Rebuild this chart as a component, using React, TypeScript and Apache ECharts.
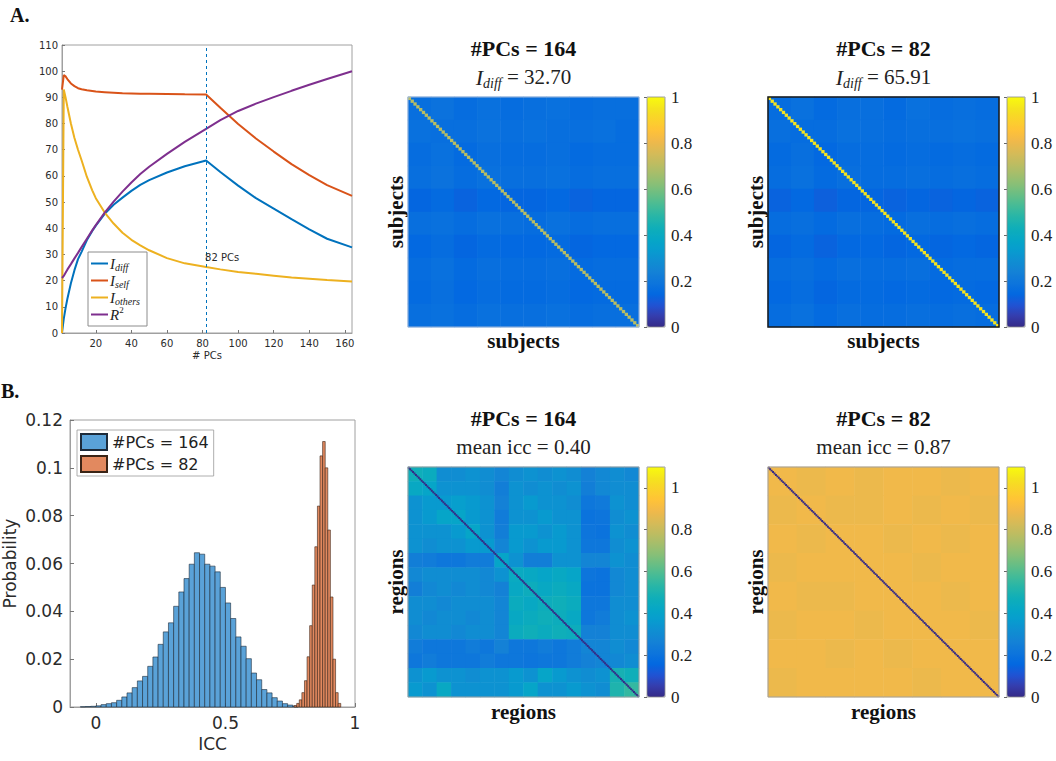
import React, { useEffect, useRef } from 'react';
import * as echarts from 'echarts';

// ---------- Panel A (left): identifiability vs number of PCs ----------
const PCS = [1, 2, 3, 4, 6, 8, 10, 12, 15, 18, 20, 25, 30, 35, 40, 45, 50, 60, 70, 82, 90, 100, 110, 120, 130, 140, 150, 164];
const I_DIFF = [0, 5.5, 9.5, 13, 19, 24, 28.2, 31, 35.5, 39, 41, 45.5, 49, 51.7, 54.3, 56.6, 58.4, 61.3, 63.7, 65.9, 61.5, 56.3, 51.5, 47.5, 43.5, 39.6, 36, 32.7];
const I_SELF = [93, 98.5, 98, 97, 95.3, 94.3, 93.5, 93.1, 92.7, 92.4, 92.2, 92, 91.8, 91.6, 91.5, 91.4, 91.4, 91.3, 91.2, 91.1, 86, 79.8, 74.3, 69.3, 64.5, 60.3, 56.5, 52.4];
const I_OTHERS = [0, 93, 90, 86.5, 80, 74.5, 70, 66, 59.6, 54.5, 51.5, 46, 41.8, 38.3, 35.6, 33.5, 31.6, 28.6, 26.6, 25.2, 24.3, 23.3, 22.6, 21.9, 21.2, 20.7, 20.2, 19.7];
const R_SQUARED = [21, 21.8, 23, 24.2, 26.3, 28.5, 30.6, 32.8, 36, 39.2, 41.2, 46, 50.2, 54, 57.5, 60.7, 63.5, 68.4, 73, 78, 81.3, 84.8, 87.6, 90.1, 92.5, 94.8, 97, 100];
const PC_TICKS = [20, 40, 60, 80, 100, 120, 140, 160];
const OPTIMAL_PCS = 82;
const OPTIMAL_LABEL_Y = 29;

// ---------- Panel B (left): ICC histograms ----------
const BLUE_BIN_WIDTH = 0.02;
const BLUE_BIN_LEFT = [-0.06, -0.04, -0.02, 0, 0.02, 0.04, 0.06, 0.08, 0.1, 0.12, 0.14, 0.16, 0.18, 0.2, 0.22, 0.24, 0.26, 0.28, 0.3, 0.32, 0.34, 0.36, 0.38, 0.4, 0.42, 0.44, 0.46, 0.48, 0.5, 0.52, 0.54, 0.56, 0.58, 0.6, 0.62, 0.64, 0.66, 0.68, 0.7, 0.72, 0.74, 0.76];
const BLUE_PROB = [0.0001, 0.0002, 0.0003, 0.0005, 0.001, 0.0014, 0.0018, 0.0028, 0.0042, 0.0059, 0.0081, 0.0109, 0.0128, 0.017, 0.0209, 0.0262, 0.0314, 0.0352, 0.0421, 0.0481, 0.0537, 0.0597, 0.0645, 0.0639, 0.0597, 0.0589, 0.0565, 0.05, 0.0435, 0.037, 0.0293, 0.0254, 0.0202, 0.0142, 0.0114, 0.0073, 0.0059, 0.0039, 0.0025, 0.0014, 0.0008, 0.0004];
const ORANGE_BIN_WIDTH = 0.01;
const ORANGE_BIN_LEFT = [0.765, 0.775, 0.785, 0.795, 0.805, 0.815, 0.825, 0.835, 0.845, 0.855, 0.865, 0.875, 0.885, 0.895, 0.905, 0.915, 0.925, 0.935];
const ORANGE_PROB = [0.0006, 0.0015, 0.003, 0.006, 0.011, 0.021, 0.034, 0.051, 0.067, 0.084, 0.105, 0.111, 0.1, 0.074, 0.046, 0.02, 0.006, 0.0015];
const ICC_TICKS = [0, 0.5, 1];

// ---------- Similarity matrices (block values) ----------
const N_SUBJECTS = 82;
const N_REGIONS = 160;
const DIAG_SUBJ_164 = 0.7;
const DIAG_SUBJ_82 = 0.95;
const DIAG_REG_164 = 0;
const DIAG_REG_82 = 0;
const SUBJ_BLOCKS_164 = [
  [0.167, 0.181, 0.160, 0.174, 0.160, 0.167, 0.174, 0.160, 0.167, 0.167],
  [0.174, 0.167, 0.167, 0.181, 0.167, 0.174, 0.167, 0.167, 0.174, 0.160],
  [0.160, 0.174, 0.153, 0.167, 0.160, 0.160, 0.167, 0.153, 0.160, 0.160],
  [0.167, 0.181, 0.160, 0.174, 0.167, 0.167, 0.174, 0.160, 0.167, 0.167],
  [0.139, 0.153, 0.132, 0.146, 0.139, 0.139, 0.146, 0.132, 0.139, 0.139],
  [0.167, 0.174, 0.160, 0.174, 0.167, 0.160, 0.174, 0.160, 0.167, 0.167],
  [0.146, 0.160, 0.139, 0.153, 0.146, 0.146, 0.153, 0.139, 0.146, 0.146],
  [0.160, 0.174, 0.153, 0.167, 0.160, 0.160, 0.167, 0.153, 0.160, 0.160],
  [0.153, 0.167, 0.146, 0.160, 0.153, 0.153, 0.160, 0.146, 0.153, 0.153],
  [0.167, 0.174, 0.160, 0.174, 0.167, 0.167, 0.174, 0.160, 0.167, 0.167],
];
const SUBJ_BLOCKS_82 = [
  [0.160, 0.174, 0.153, 0.167, 0.167, 0.153, 0.174, 0.160, 0.167, 0.160],
  [0.167, 0.160, 0.160, 0.174, 0.167, 0.160, 0.167, 0.167, 0.174, 0.167],
  [0.153, 0.167, 0.146, 0.160, 0.160, 0.153, 0.160, 0.153, 0.160, 0.153],
  [0.160, 0.174, 0.153, 0.167, 0.160, 0.160, 0.167, 0.160, 0.167, 0.160],
  [0.132, 0.146, 0.125, 0.139, 0.139, 0.132, 0.139, 0.132, 0.139, 0.132],
  [0.160, 0.167, 0.153, 0.167, 0.160, 0.153, 0.167, 0.160, 0.167, 0.160],
  [0.139, 0.153, 0.132, 0.146, 0.146, 0.139, 0.146, 0.139, 0.146, 0.139],
  [0.160, 0.167, 0.153, 0.167, 0.160, 0.160, 0.167, 0.153, 0.160, 0.160],
  [0.146, 0.160, 0.139, 0.153, 0.153, 0.146, 0.153, 0.146, 0.153, 0.146],
  [0.160, 0.174, 0.153, 0.167, 0.160, 0.160, 0.167, 0.160, 0.167, 0.160],
];
const REG_BLOCKS_164 = [
  [0.47, 0.45, 0.31, 0.31, 0.33, 0.31, 0.28, 0.31, 0.33, 0.31, 0.33, 0.31, 0.26, 0.29, 0.31, 0.29],
  [0.43, 0.41, 0.33, 0.33, 0.33, 0.31, 0.25, 0.33, 0.31, 0.33, 0.31, 0.33, 0.25, 0.29, 0.31, 0.31],
  [0.33, 0.36, 0.36, 0.38, 0.36, 0.33, 0.26, 0.33, 0.36, 0.33, 0.33, 0.31, 0.22, 0.23, 0.33, 0.31],
  [0.33, 0.36, 0.41, 0.41, 0.36, 0.33, 0.24, 0.33, 0.33, 0.36, 0.33, 0.33, 0.20, 0.21, 0.31, 0.33],
  [0.33, 0.33, 0.33, 0.36, 0.41, 0.33, 0.25, 0.36, 0.36, 0.33, 0.36, 0.33, 0.21, 0.20, 0.33, 0.31],
  [0.33, 0.31, 0.33, 0.33, 0.36, 0.36, 0.28, 0.36, 0.33, 0.36, 0.36, 0.33, 0.22, 0.22, 0.31, 0.33],
  [0.25, 0.24, 0.22, 0.22, 0.24, 0.24, 0.41, 0.33, 0.25, 0.25, 0.33, 0.33, 0.28, 0.28, 0.33, 0.31],
  [0.29, 0.31, 0.31, 0.31, 0.31, 0.29, 0.33, 0.44, 0.43, 0.41, 0.43, 0.41, 0.21, 0.20, 0.29, 0.31],
  [0.25, 0.29, 0.31, 0.29, 0.31, 0.29, 0.26, 0.43, 0.46, 0.43, 0.45, 0.43, 0.20, 0.20, 0.29, 0.31],
  [0.31, 0.31, 0.29, 0.31, 0.31, 0.31, 0.28, 0.45, 0.43, 0.46, 0.47, 0.45, 0.22, 0.22, 0.31, 0.31],
  [0.31, 0.29, 0.31, 0.31, 0.29, 0.31, 0.28, 0.43, 0.45, 0.47, 0.46, 0.43, 0.22, 0.24, 0.31, 0.33],
  [0.29, 0.31, 0.31, 0.29, 0.31, 0.31, 0.28, 0.45, 0.47, 0.45, 0.47, 0.46, 0.26, 0.26, 0.31, 0.31],
  [0.24, 0.22, 0.22, 0.22, 0.24, 0.22, 0.26, 0.22, 0.22, 0.24, 0.22, 0.24, 0.28, 0.28, 0.31, 0.29],
  [0.22, 0.24, 0.22, 0.22, 0.22, 0.24, 0.22, 0.22, 0.21, 0.22, 0.22, 0.24, 0.26, 0.28, 0.29, 0.31],
  [0.33, 0.36, 0.33, 0.33, 0.31, 0.33, 0.33, 0.36, 0.33, 0.41, 0.36, 0.33, 0.31, 0.33, 0.49, 0.47],
  [0.36, 0.33, 0.43, 0.33, 0.33, 0.33, 0.33, 0.36, 0.41, 0.33, 0.33, 0.36, 0.33, 0.31, 0.51, 0.55],
];
const REG_BLOCKS_82 = [
  [0.89, 0.88, 0.89, 0.88, 0.89, 0.89, 0.88, 0.89],
  [0.88, 0.89, 0.88, 0.88, 0.89, 0.88, 0.89, 0.88],
  [0.89, 0.88, 0.89, 0.89, 0.88, 0.89, 0.88, 0.89],
  [0.88, 0.89, 0.89, 0.89, 0.89, 0.88, 0.89, 0.89],
  [0.89, 0.88, 0.88, 0.89, 0.89, 0.89, 0.88, 0.89],
  [0.88, 0.89, 0.89, 0.88, 0.89, 0.89, 0.89, 0.88],
  [0.89, 0.89, 0.88, 0.89, 0.88, 0.89, 0.89, 0.89],
  [0.88, 0.89, 0.89, 0.89, 0.89, 0.88, 0.89, 0.89],
];
const CBAR_TICKS = [0, 0.2, 0.4, 0.6, 0.8, 1];

// ---------- styles ----------
const SERIF = "'Liberation Serif', 'DejaVu Serif', serif";
const SANS = "'DejaVu Sans', 'Liberation Sans', sans-serif";
const PARULA = [
  '#352A87', '#353DAD', '#2053D4', '#0268E1', '#0D75DC', '#1481D6', '#108ED2', '#079CCF',
  '#06A7C6', '#0FAEB9', '#25B5A9', '#42BB98', '#65BE86', '#87BF77', '#A5BE6B', '#C0BC60',
  '#D9BA56', '#F1B94A', '#FFC337', '#FAD32A', '#F5E41D', '#F9FB0E',
];
const LINE_COLORS = ['#0072BD', '#D95319', '#EDB120', '#7E2F8E'];
const AX = '#a0a0a0';
const TXT = '#2b2b2b';

function buildOption() {
  const grid: any[] = [];
  const xAxis: any[] = [];
  const yAxis: any[] = [];
  const series: any[] = [];
  const visualMap: any[] = [];
  const graphic: any[] = [];

  // ===== line chart =====
  grid.push({ left: 62, top: 45, width: 290, height: 288, show: true, borderColor: AX, borderWidth: 1 });
  xAxis.push({
    gridIndex: 0, type: 'value', min: 1, max: 164,
    name: '# PCs', nameLocation: 'middle', nameGap: 17,
    nameTextStyle: { fontFamily: SANS, fontSize: 10, color: TXT },
    axisLine: { onZero: false, lineStyle: { color: AX } },
    axisTick: { show: true, inside: true, length: 3, customValues: PC_TICKS, lineStyle: { color: '#777' } },
    axisLabel: { customValues: PC_TICKS, fontFamily: SANS, fontSize: 10, color: TXT, margin: 5 },
    splitLine: { show: false },
  });
  yAxis.push({
    gridIndex: 0, type: 'value', min: 0, max: 110, interval: 10,
    axisLine: { show: true, onZero: false, lineStyle: { color: AX } },
    axisTick: { show: true, inside: true, length: 3, lineStyle: { color: '#777' } },
    axisLabel: { fontFamily: SANS, fontSize: 10, color: TXT, margin: 4 },
    splitLine: { show: false },
  });
  const lineDefs = [
    { name: 'Idiff', label: '{i|I}{s|diff}', vals: I_DIFF },
    { name: 'Iself', label: '{i|I}{s|self}', vals: I_SELF },
    { name: 'Iothers', label: '{i|I}{s|others}', vals: I_OTHERS },
    { name: 'R2', label: '{i|R}{p|2}', vals: R_SQUARED },
  ];
  lineDefs.forEach((d, k) => {
    const s: any = {
      type: 'line', name: d.name, xAxisIndex: 0, yAxisIndex: 0,
      data: PCS.map((x, i) => [x, d.vals[i]]),
      showSymbol: false, symbol: 'none', smooth: false,
      lineStyle: { width: 2, color: LINE_COLORS[k] },
      itemStyle: { color: LINE_COLORS[k] },
    };
    if (k === 0) {
      s.markLine = {
        silent: true, symbol: ['none', 'none'],
        lineStyle: { type: [3, 3], color: '#0072BD', width: 1 },
        label: { show: false },
        data: [{ xAxis: OPTIMAL_PCS }],
      };
      s.markPoint = {
        silent: true, symbol: 'circle', symbolSize: 0,
        label: { show: true, position: 'right', distance: -1, formatter: OPTIMAL_PCS + ' PCs', fontFamily: SANS, fontSize: 10, color: TXT },
        data: [{ coord: [OPTIMAL_PCS, OPTIMAL_LABEL_Y] }],
      };
    }
    series.push(s);
  });

  // line-chart legend (box with line samples and math-style labels)
  const LG = { x: 88, y: 252, w: 59, h: 74, row: 17, first: 263.5 };
  const legendRich = {
    i: { fontFamily: SERIF, fontStyle: 'italic', fontSize: 15, fill: '#222', lineHeight: 18 },
    s: { fontFamily: SERIF, fontStyle: 'italic', fontSize: 10, fill: '#222', lineHeight: 8, verticalAlign: 'bottom' },
    p: { fontFamily: SERIF, fontSize: 9, fill: '#222', lineHeight: 8, verticalAlign: 'top' },
  };
  const legendChildren: any[] = [
    { type: 'rect', shape: { x: LG.x, y: LG.y, width: LG.w, height: LG.h }, style: { fill: '#ffffff', stroke: '#8c8c8c', lineWidth: 1 }, z: 50 },
  ];
  lineDefs.forEach((d, k) => {
    const cy = LG.first + k * LG.row;
    legendChildren.push({ type: 'line', shape: { x1: LG.x + 3, y1: cy, x2: LG.x + 20, y2: cy }, style: { stroke: LINE_COLORS[k], lineWidth: 2 }, z: 51 });
    legendChildren.push({ type: 'text', x: LG.x + 22, y: cy, style: { text: d.label, rich: legendRich, verticalAlign: 'middle', align: 'left', fontFamily: SERIF, fontSize: 15, fill: '#222' }, z: 51 });
  });
  graphic.push({ type: 'group', children: legendChildren, z: 50 });

  // ===== histogram =====
  grid.push({ left: 69, top: 420, width: 286, height: 287, show: true, borderColor: AX, borderWidth: 1 });
  xAxis.push({
    gridIndex: 1, type: 'value', min: -0.1, max: 1,
    name: 'ICC', nameLocation: 'middle', nameGap: 28,
    nameTextStyle: { fontFamily: SANS, fontSize: 17, color: TXT },
    axisLine: { onZero: false, lineStyle: { color: AX } },
    axisTick: { show: true, inside: true, length: 4, customValues: ICC_TICKS, lineStyle: { color: '#777' } },
    axisLabel: { customValues: ICC_TICKS, fontFamily: SANS, fontSize: 17, color: TXT, margin: 7 },
    splitLine: { show: false },
  });
  yAxis.push({
    gridIndex: 1, type: 'value', min: 0, max: 0.12, interval: 0.02,
    name: 'Probability', nameLocation: 'middle', nameGap: 52,
    nameTextStyle: { fontFamily: SANS, fontSize: 17, color: TXT },
    axisLine: { show: true, onZero: false, lineStyle: { color: AX } },
    axisTick: { show: true, inside: true, length: 4, lineStyle: { color: '#777' } },
    axisLabel: { fontFamily: SANS, fontSize: 17, color: TXT, margin: 7 },
    splitLine: { show: false },
  });
  const histDefs = [
    { name: '#PCs = 164', lefts: BLUE_BIN_LEFT, w: BLUE_BIN_WIDTH, probs: BLUE_PROB, color: '#5AA2D8', edge: '#1d2b3a' },
    { name: '#PCs = 82', lefts: ORANGE_BIN_LEFT, w: ORANGE_BIN_WIDTH, probs: ORANGE_PROB, color: '#E2895F', edge: '#3a2416' },
  ];
  histDefs.forEach((h) => {
    series.push({
      type: 'custom', name: h.name, xAxisIndex: 1, yAxisIndex: 1,
      data: h.lefts.map((l, i) => [l, l + h.w, h.probs[i]]),
      encode: { x: [0, 1], y: 2 },
      itemStyle: { color: h.color, borderColor: h.edge, borderWidth: 0.6 },
      renderItem: (params: any, api: any) => {
        const a = api.coord([api.value(0), api.value(2)]);
        const b = api.coord([api.value(1), 0]);
        return {
          type: 'rect',
          shape: { x: a[0], y: a[1], width: b[0] - a[0], height: b[1] - a[1] },
          style: { fill: h.color, stroke: h.edge, lineWidth: 0.6 },
        };
      },
    });
  });

  // ===== heatmaps =====
  const panels = [
    { left: 408, top: 97, cb: 647, blocks: SUBJ_BLOCKS_164, n: N_SUBJECTS, diag: DIAG_SUBJ_164, max: 1, t1: '#PCs = 164', t2: '{i|I}{s|diff}{n| = 32.70}', name: 'subjects', frame: '#9fb7d8', frameW: 1, nameGap: 3 },
    { left: 768, top: 97, cb: 1007, blocks: SUBJ_BLOCKS_82, n: N_SUBJECTS, diag: DIAG_SUBJ_82, max: 1, t1: '#PCs = 82', t2: '{i|I}{s|diff}{n| = 65.91}', name: 'subjects', frame: '#1a1a1a', frameW: 1.5, nameGap: 3 },
    { left: 408, top: 467, cb: 647, blocks: REG_BLOCKS_164, n: N_REGIONS, diag: DIAG_REG_164, max: 1.1, t1: '#PCs = 164', t2: '{n|mean icc = 0.40}', name: 'regions', frame: '#a0a0a0', frameW: 1, nameGap: 4 },
    { left: 768, top: 467, cb: 1007, blocks: REG_BLOCKS_82, n: N_REGIONS, diag: DIAG_REG_82, max: 1.1, t1: '#PCs = 82', t2: '{n|mean icc = 0.87}', name: 'regions', frame: '#a0a0a0', frameW: 1, nameGap: 4 },
  ];
  const W = 231, H = 230, CBW = 18;
  const nameStyle = { fontFamily: SERIF, fontSize: 21, fontWeight: 'bold', color: '#111' };
  panels.forEach((p) => {
    const gB = grid.length;
    grid.push({ left: p.left, top: p.top, width: W, height: H });
    grid.push({ left: p.left, top: p.top, width: W, height: H, show: true, borderColor: p.frame, borderWidth: p.frameW, z: 10 });
    grid.push({ left: p.cb, top: p.top, width: CBW, height: H, show: true, borderColor: '#8a8a8a', borderWidth: 0.8, z: 10 });
    const blockCats = p.blocks.map((_, i) => String(i));
    const diagCats = Array.from({ length: p.n }, (_, i) => String(i));
    xAxis.push({
      gridIndex: gB, type: 'category', data: blockCats,
      axisLine: { show: false }, axisTick: { show: false }, axisLabel: { show: false }, splitLine: { show: false },
      name: p.name, nameLocation: 'middle', nameGap: p.nameGap, nameTextStyle: nameStyle,
    });
    yAxis.push({
      gridIndex: gB, type: 'category', data: blockCats, inverse: true,
      axisLine: { show: false }, axisTick: { show: false }, axisLabel: { show: false }, splitLine: { show: false },
      name: p.name, nameLocation: 'middle', nameGap: 2, nameTextStyle: nameStyle,
    });
    xAxis.push({ gridIndex: gB + 1, type: 'category', data: diagCats, show: false });
    yAxis.push({ gridIndex: gB + 1, type: 'category', data: diagCats, inverse: true, show: false });
    xAxis.push({ gridIndex: gB + 2, type: 'value', min: 0, max: 1, show: false });
    yAxis.push({
      gridIndex: gB + 2, type: 'value', min: 0, max: p.max, position: 'right',
      axisLine: { show: false },
      axisTick: { show: true, inside: true, length: 3, customValues: CBAR_TICKS, lineStyle: { color: '#666' } },
      axisLabel: { customValues: CBAR_TICKS, fontFamily: SERIF, fontSize: 17, color: '#222', margin: 6 },
      splitLine: { show: false },
    });
    const sB = series.length;
    const cells: any[] = [];
    p.blocks.forEach((row, r) => row.forEach((v, c) => cells.push([c, r, v])));
    series.push({ type: 'heatmap', xAxisIndex: gB, yAxisIndex: gB, data: cells, silent: true });
    series.push({
      type: 'heatmap', xAxisIndex: gB + 1, yAxisIndex: gB + 1, silent: true,
      data: diagCats.map((_, i) => [i, i, p.diag]),
    });
    visualMap.push({
      type: 'continuous', show: true, seriesIndex: [sB, sB + 1], dimension: 2,
      min: 0, max: p.max, inRange: { color: PARULA },
      left: p.cb, top: p.top, itemWidth: CBW, itemHeight: H, padding: 0,
      calculable: false, hoverLink: false, text: null, z: 1,
    });
    const cx = p.left + W / 2;
    graphic.push({
      type: 'text', x: cx, y: p.top - 49,
      style: { text: p.t1, align: 'center', verticalAlign: 'middle', fontFamily: SERIF, fontSize: 22, fontWeight: 'bold', fill: '#111' },
    });
    graphic.push({
      type: 'text', x: cx, y: p.top - 20,
      style: {
        text: p.t2, align: 'center', verticalAlign: 'middle', fontFamily: SERIF, fontSize: 21, fill: '#222',
        rich: {
          i: { fontFamily: SERIF, fontSize: 22, fontStyle: 'italic', fill: '#222', lineHeight: 26 },
          s: { fontFamily: SERIF, fontSize: 14, fontStyle: 'italic', fill: '#222', lineHeight: 10, verticalAlign: 'bottom' },
          n: { fontFamily: SERIF, fontSize: 21, fill: '#222', lineHeight: 26 },
        },
      },
    });
  });

  graphic.push({ type: 'text', x: 10, y: 5, style: { text: 'A.', fontFamily: SERIF, fontSize: 20, fontWeight: 'bold', fill: '#111' } });
  graphic.push({ type: 'text', x: 1, y: 381, style: { text: 'B.', fontFamily: SERIF, fontSize: 20, fontWeight: 'bold', fill: '#111' } });

  return {
    animation: false,
    backgroundColor: '#fff',
    grid, xAxis, yAxis, series, visualMap, graphic,
    legend: [
      {
        data: ['#PCs = 164', '#PCs = 82'], selectedMode: false,
        left: 77, top: 430, orient: 'vertical', icon: 'rect',
        itemWidth: 26, itemHeight: 16, itemGap: 4, padding: [3, 5, 3, 3],
        borderColor: '#9a9a9a', borderWidth: 0.8, backgroundColor: '#fff',
        textStyle: { fontFamily: SANS, fontSize: 16, color: '#222' },
      },
    ],
  };
}

export default function App() {
  const ref = useRef<HTMLDivElement>(null);
  useEffect(() => {
    const chart = echarts.init(ref.current!, null, { renderer: 'svg' });
    chart.setOption(buildOption() as any);
    return () => chart.dispose();
  }, []);
  return (
    <div
      ref={ref}
      style={{ position: 'absolute', left: 0, top: 0, width: 1056, height: 761, background: '#fff' }}
    />
  );
}
